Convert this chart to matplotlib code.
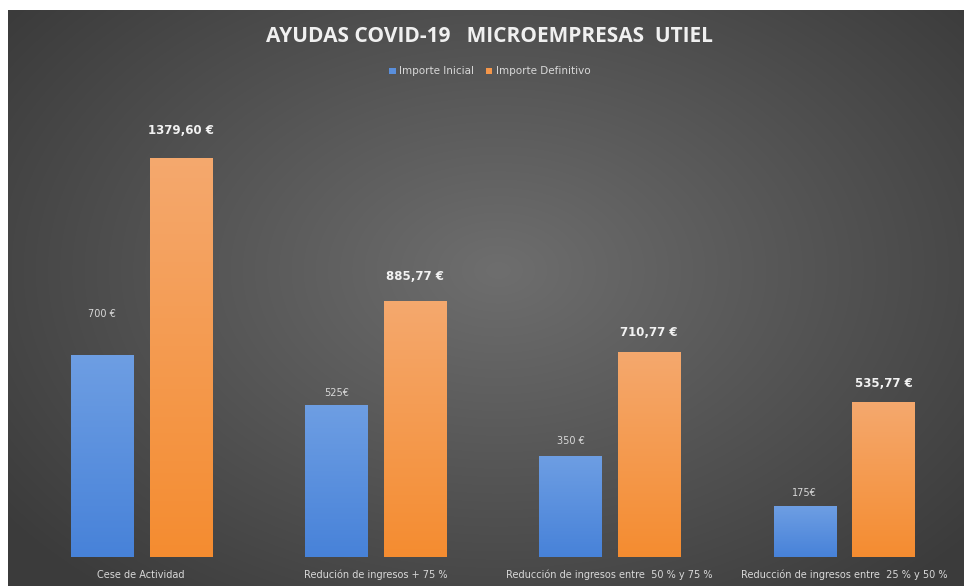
import numpy as np
import matplotlib
matplotlib.use('Agg')
import matplotlib.pyplot as plt

# Data
categories = ['Cese de Actividad', 'Redución de ingresos + 75 %',
              'Reducción de ingresos entre  50 % y 75 %',
              'Reducción de ingresos entre  25 % y 50 %']
importe_inicial = [700, 525, 350, 175]
importe_definitivo = [1379.60, 885.77, 710.77, 535.77]
labels_inicial = ['700 €', '525€', '350 €', '175€']
labels_definitivo = ['1379,60 €', '885,77 €', '710,77 €', '535,77 €']

# label offsets above the bars (points)
off_inicial = [26, 5, 7, 6]
off_definitivo = [15, 13, 9, 9]

plt.rcParams['font.family'] = ['DejaVu Sans']

fig = plt.figure(figsize=(9.64, 5.86), dpi=100, facecolor='white')

# Dark radial gradient background
bg = fig.add_axes([8/964, 0, 956/964, 576/586])
bg.axis('off')
yy, xx = np.mgrid[0:576, 0:956]
r = np.sqrt(((xx - 490) / 560.0) ** 2 + ((yy - 260) / 380.0) ** 2)
shade = 110 - 46 * np.clip(r, 0, 1.1)
img = np.dstack([shade, shade, shade]) / 255.0
bg.imshow(img, aspect='auto', extent=[0, 1, 0, 1], origin='upper')
bg.set_xlim(0, 1)
bg.set_ylim(0, 1)

ax = fig.add_axes([24/964, 29/586, 937/964, 462.4/586])
ax.patch.set_alpha(0)
x = np.arange(len(categories))
w = 0.265
b1 = ax.bar(x - 0.167, importe_inicial, w, color='#5a8fdc', label='Importe Inicial')
b2 = ax.bar(x + 0.169, importe_definitivo, w, color='#f4964a', label='Importe Definitivo')

# vertical gradient fill inside each bar
def shade_bar(bars, top, bottom):
    grad = np.linspace(0, 1, 100).reshape(-1, 1)
    c = np.array(top) * (1 - grad) + np.array(bottom) * grad
    c = c.reshape(100, 1, 3)
    for b in bars:
        bx, by = b.get_x(), b.get_y()
        im = ax.imshow(c, aspect='auto', origin='upper',
                       extent=[bx, bx + b.get_width(), by, by + b.get_height()], zorder=2)
        im.set_clip_path(b)

shade_bar(b1, (0.43, 0.62, 0.89), (0.28, 0.51, 0.85))
shade_bar(b2, (0.96, 0.66, 0.43), (0.96, 0.55, 0.19))

for b, t, o in zip(b1, labels_inicial, off_inicial):
    ax.annotate(t, (b.get_x() + b.get_width() / 2, b.get_height()),
                xytext=(0, o), textcoords='offset points', ha='center', va='bottom',
                fontsize=7, color='#d8d8d8')
for b, t, o in zip(b2, labels_definitivo, off_definitivo):
    ax.annotate(t, (b.get_x() + b.get_width() / 2, b.get_height()),
                xytext=(0, o), textcoords='offset points', ha='center', va='bottom',
                fontsize=8.5, color='#f2f2f2', fontweight='bold')

ax.set_xlim(-0.5, 3.5)
ax.set_ylim(0, 1600)
ax.set_xticks(x)
ax.set_xticklabels(categories, fontsize=7, color='#d8d8d8')
ax.tick_params(axis='x', length=0, pad=9)
ax.set_yticks([])
for s in ax.spines.values():
    s.set_visible(False)

fig.text(0.508, 0.938, 'AYUDAS COVID-19   MICROEMPRESAS  UTIEL', ha='center', va='center',
         fontsize=15, fontweight='bold', color='#f0f0f0', family=['Open Sans', 'DejaVu Sans'])

leg = fig.legend(handles=[b1, b2], loc='center', bbox_to_anchor=(0.508, 0.878), ncol=2,
                 frameon=False, fontsize=7.5, handlelength=0.6, handleheight=0.6,
                 columnspacing=1.2, handletextpad=0.3)
for t in leg.get_texts():
    t.set_color('#d8d8d8')

fig.savefig('out.png', dpi=100, facecolor='white')
